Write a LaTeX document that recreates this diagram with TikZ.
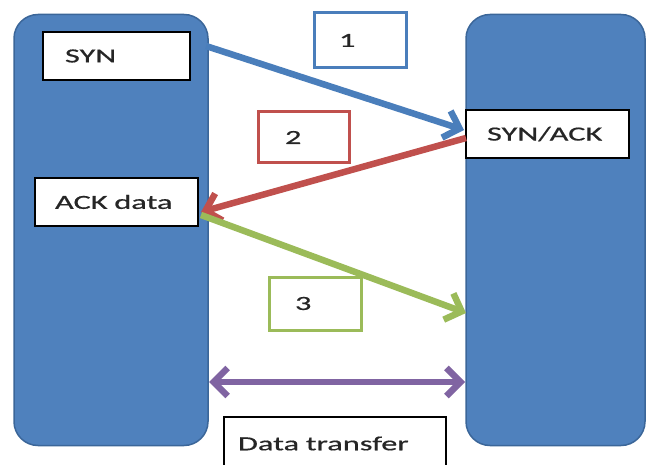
\documentclass[tikz,border=0pt]{standalone}
\usepackage{fontspec}
\setmainfont[FakeStretch=1.62,WordSpace=0.6,FakeBold=0.6]{Carlito}
\usetikzlibrary{arrows.meta}
\definecolor{barfill}{HTML}{4F81BD}
\definecolor{barline}{HTML}{3B6699}
\definecolor{ablue}{HTML}{4A7EBB}
\definecolor{ared}{HTML}{C0504D}
\definecolor{agreen}{HTML}{9BBB59}
\definecolor{apurple}{HTML}{8064A2}
\definecolor{txt}{HTML}{262626}
\begin{document}
\begin{tikzpicture}[x=1pt,y=-1pt,
 bar/.style={draw=barline, line width=1.5pt, fill=barfill, rounded corners=24pt, inner sep=0pt},
 lbl/.style={draw=black, line width=1.2pt, fill=white, inner ysep=0pt, align=left, text=txt,
   font=\fontsize{20}{24}\selectfont},
 numbox/.style={line width=3pt, fill=white, inner ysep=0pt, align=left, text=txt,
   font=\fontsize{20}{24}\selectfont},
 flow/.style={line width=6.5pt, -{Straight Barb[length=14pt,width=28pt]}},
 twoway/.style={line width=6.5pt, {Straight Barb[length=14pt,width=28pt]}-{Straight Barb[length=14pt,width=28pt]}},
]
\useasboundingbox[fill=white] (0,0) rectangle (648,465);
% hosts
\node[bar, minimum width=194pt, minimum height=431pt] (L) at (111,230) {};
\node[bar, minimum width=179pt, minimum height=431pt] (R) at (555.5,230) {};
% labels
\node[lbl, minimum height=48pt, inner xsep=22pt, text width=103pt] (syn) at (116.5,56) {SYN};
\node[lbl, minimum height=48pt, inner xsep=20pt, text width=123pt] (ack) at (116.5,202) {ACK data};
\node[lbl, minimum height=48pt, inner xsep=21pt, text width=121pt] (synack) at (547.5,134) {SYN/ACK};
\node[lbl, minimum height=53pt, inner xsep=14pt, text width=194pt] (dt) at (335,443.5) {Data transfer};
% step numbers
\node[numbox, draw=ablue, minimum height=55pt, inner xsep=25pt, text width=42pt] (n1) at (360,40.5) {1};
\node[numbox, draw=ared, minimum height=51pt, inner xsep=27pt, text width=37pt] (n2) at (303.5,137.5) {2};
\node[numbox, draw=agreen, minimum height=53pt, inner xsep=26pt, text width=40pt] (n3) at (315,303.5) {3};
% connector end points
\coordinate (s1) at (206,46);
\coordinate (e1) at (464,130);
\coordinate (s2) at (466,138);
\coordinate (e2) at (201,212);
\coordinate (s3) at (201,215);
\coordinate (e3) at (466,313);
\coordinate (s4) at (209,382);
\coordinate (e4) at (465,382);
% connectors
\draw[flow, draw=ablue] (s1) -- (e1);
\draw[flow, draw=ared] (s2) -- (e2);
\draw[flow, draw=agreen] (s3) -- (e3);
\draw[twoway, draw=apurple] (s4) -- (e4);
\end{tikzpicture}
\end{document}
